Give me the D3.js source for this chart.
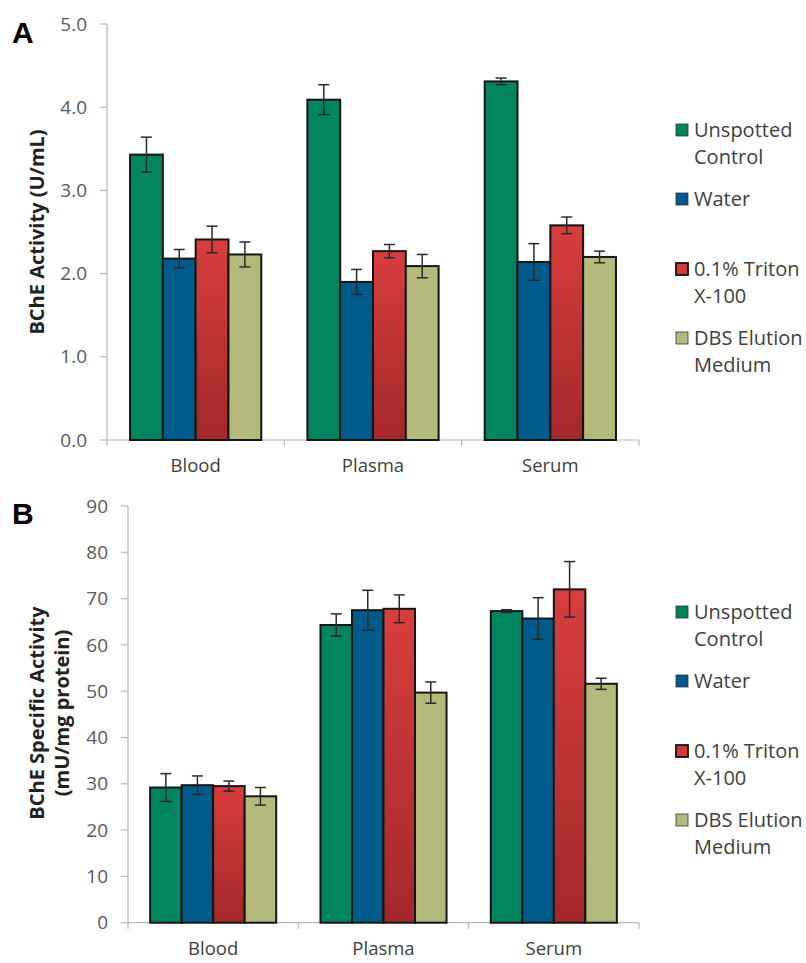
<!DOCTYPE html>
<html lang="en">
  <head>
    <meta charset="utf-8">
    <title>BChE Activity</title>
    <script src="https://d3js.org/d3.v7.min.js"></script>
    <style>
      html, body {
        padding: 0px;
        margin: 0px;
        background: #fff;
      }
      svg {
        font-family: "Open Sans", sans-serif;
      }
      .tick-label {
        fill: #595959;
        font-size: 19px;
      }
      .cat-label {
        fill: #404040;
        font-size: 18.5px;
      }
      .legend-text {
        fill: #404040;
        font-size: 20px;
      }
      .axis-title {
        fill: #222;
        font-size: 20px;
        font-weight: bold;
      }
      .panel-letter {
        font-family: "Liberation Sans", Arial, sans-serif;
        font-size: 30px;
        font-weight: bold;
      }
    </style>
  </head>
  <body>
    <div id="chart"></div>
    <script>
      // categories and series
      var categories = ["Blood", "Plasma", "Serum"];
      var seriesNames = ["Unspotted Control", "Water", "0.1% Triton X-100", "DBS Elution Medium"];
      var legendLines = [["Unspotted", "Control"], ["Water"], ["0.1% Triton", "X-100"], ["DBS Elution", "Medium"]];
      var seriesColors = ["#00855f", "#005a8a", "url(#redGrad)", "#b3ba7b"];
      var legendColors = ["#00855f", "#005a8a", "#d23a3a", "#b3ba7b"];

      // panel A: BChE activity (U/mL), one row per category
      var activity = [
        [3.43, 2.18, 2.41, 2.23],
        [4.09, 1.90, 2.27, 2.09],
        [4.31, 2.14, 2.58, 2.20]
      ];
      var activityErr = [
        [0.21, 0.11, 0.16, 0.15],
        [0.18, 0.15, 0.08, 0.14],
        [0.04, 0.22, 0.10, 0.07]
      ];
      var ticksA = [0, 1, 2, 3, 4, 5];

      // panel B: BChE specific activity (mU/mg protein)
      var specific = [
        [29.2, 29.7, 29.5, 27.3],
        [64.3, 67.5, 67.8, 49.7],
        [67.3, 65.7, 72.0, 51.6]
      ];
      var specificErr = [
        [3.0, 2.0, 1.1, 1.9],
        [2.4, 4.3, 3.0, 2.3],
        [0.3, 4.5, 6.0, 1.2]
      ];
      var ticksB = [0, 10, 20, 30, 40, 50, 60, 70, 80, 90];

      var svg = d3.select("#chart").append("svg")
        .attr("width", 806)
        .attr("height", 963);

      var defs = svg.append("defs");
      var grad = defs.append("linearGradient")
        .attr("id", "redGrad")
        .attr("x1", 0).attr("y1", 0).attr("x2", 0).attr("y2", 1);
      grad.append("stop").attr("offset", "0%").attr("stop-color", "#d83e3e");
      grad.append("stop").attr("offset", "100%").attr("stop-color", "#a2282a");

      function drawPanel(opts) {
        var g = svg.append("g");

        var y = d3.scaleLinear().domain(opts.domain).range([opts.bottom, opts.top]);
        var x0 = d3.scaleBand()
          .domain(categories)
          .range([opts.left, opts.right])
          .paddingInner(0.26)
          .paddingOuter(0.13);
        var x1 = d3.scaleBand()
          .domain(d3.range(seriesNames.length))
          .range([0, x0.bandwidth()]);

        // y axis
        g.append("line")
          .attr("x1", opts.left).attr("x2", opts.left)
          .attr("y1", y(opts.domain[1])).attr("y2", opts.bottom)
          .attr("stroke", "#b8b8b8").attr("stroke-width", 1.2);
        g.selectAll(".ytick")
          .data(opts.ticks)
          .enter().append("line")
          .attr("x1", opts.left - 7).attr("x2", opts.left)
          .attr("y1", function(d) { return y(d); })
          .attr("y2", function(d) { return y(d); })
          .attr("stroke", "#b8b8b8").attr("stroke-width", 1.2);
        g.selectAll(".tick-label")
          .data(opts.ticks)
          .enter().append("text")
          .attr("class", "tick-label")
          .attr("x", opts.left - 20)
          .attr("y", function(d) { return y(d); })
          .attr("dy", "0.35em")
          .attr("text-anchor", "end")
          .text(function(d) { return opts.fmt(d); });

        // x axis with ticks between categories
        g.append("line")
          .attr("x1", opts.left).attr("x2", opts.right)
          .attr("y1", opts.bottom).attr("y2", opts.bottom)
          .attr("stroke", "#b8b8b8").attr("stroke-width", 1.2);
        var step = x0.step();
        var bounds = d3.range(categories.length + 1).map(function(i) { return opts.left + i * step; });
        g.selectAll(".xtick")
          .data(bounds)
          .enter().append("line")
          .attr("x1", function(d) { return d; })
          .attr("x2", function(d) { return d; })
          .attr("y1", opts.bottom).attr("y2", opts.bottom + 6)
          .attr("stroke", "#b8b8b8").attr("stroke-width", 1.2);
        g.selectAll(".cat-label")
          .data(categories)
          .enter().append("text")
          .attr("class", "cat-label")
          .attr("x", function(d) { return x0(d) + x0.bandwidth() / 2; })
          .attr("y", opts.bottom + 26)
          .attr("dy", "0.35em")
          .attr("text-anchor", "middle")
          .text(function(d) { return d; });

        // bars
        var groups = g.selectAll(".group")
          .data(categories)
          .enter().append("g")
          .attr("transform", function(d) { return "translate(" + x0(d) + ",0)"; });

        groups.selectAll("rect")
          .data(function(d, i) {
            return opts.values[i].map(function(v, j) { return {s: j, v: v, e: opts.errors[i][j]}; });
          })
          .enter().append("rect")
          .attr("x", function(d) { return x1(d.s); })
          .attr("y", function(d) { return y(d.v); })
          .attr("width", x1.bandwidth())
          .attr("height", function(d) { return opts.bottom - y(d.v); })
          .attr("fill", function(d) { return seriesColors[d.s]; })
          .attr("stroke", "#151515")
          .attr("stroke-width", 2);

        // error bars
        var eb = groups.selectAll(".err")
          .data(function(d, i) {
            return opts.values[i].map(function(v, j) { return {s: j, v: v, e: opts.errors[i][j]}; });
          })
          .enter().append("g")
          .attr("stroke", "#2a2a2a")
          .attr("stroke-width", 1.5);
        eb.append("line")
          .attr("x1", function(d) { return x1(d.s) + x1.bandwidth() / 2; })
          .attr("x2", function(d) { return x1(d.s) + x1.bandwidth() / 2; })
          .attr("y1", function(d) { return y(d.v + d.e); })
          .attr("y2", function(d) { return y(d.v - d.e); });
        [1, -1].forEach(function(sign) {
          eb.append("line")
            .attr("x1", function(d) { return x1(d.s) + x1.bandwidth() / 2 - 5.5; })
            .attr("x2", function(d) { return x1(d.s) + x1.bandwidth() / 2 + 5.5; })
            .attr("y1", function(d) { return y(d.v + sign * d.e); })
            .attr("y2", function(d) { return y(d.v + sign * d.e); });
        });

        // axis title
        opts.title.forEach(function(line, i) {
          g.append("text")
            .attr("class", "axis-title")
            .attr("transform", "translate(" + (opts.titleX + i * 25) + "," + opts.titleY + ") rotate(-90)")
            .attr("text-anchor", "middle")
            .attr("dy", "0.35em")
            .text(line);
        });

        // panel letter
        g.append("text")
          .attr("class", "panel-letter")
          .attr("x", 12)
          .attr("y", opts.letterY)
          .text(opts.letter);

        // legend
        var legendY = [0, 69, 139, 208];
        var lg = g.selectAll(".legend")
          .data(legendLines)
          .enter().append("g")
          .attr("transform", function(d, i) { return "translate(676," + (opts.legendTop + legendY[i]) + ")"; });
        lg.append("rect")
          .attr("x", 0).attr("y", -6)
          .attr("width", 12).attr("height", 12)
          .attr("fill", function(d, i) { return legendColors[i]; })
          .attr("stroke", function(d, i) { return i == 2 ? "#111" : "#333"; })
          .attr("stroke-width", function(d, i) { return i == 2 ? 1.8 : 0.8; });
        lg.each(function(d) {
          var t = d3.select(this);
          d.forEach(function(line, k) {
            t.append("text")
              .attr("class", "legend-text")
              .attr("x", 18)
              .attr("y", k * 27)
              .attr("dy", "0.35em")
              .text(line);
          });
        });
      }

      drawPanel({
        letter: "A", letterY: 43,
        domain: [0, 5], ticks: ticksA, fmt: d3.format(".1f"),
        values: activity, errors: activityErr,
        left: 107, right: 639, top: 24, bottom: 440,
        title: ["BChE Activity (U/mL)"], titleX: 37, titleY: 232,
        legendTop: 130
      });

      drawPanel({
        letter: "B", letterY: 524,
        domain: [0, 90], ticks: ticksB, fmt: d3.format("d"),
        values: specific, errors: specificErr,
        left: 128, right: 639, top: 506, bottom: 922.7,
        title: ["BChE Specific Activity", "(mU/mg protein)"], titleX: 37, titleY: 713,
        legendTop: 612
      });
    </script>
  </body>
</html>
